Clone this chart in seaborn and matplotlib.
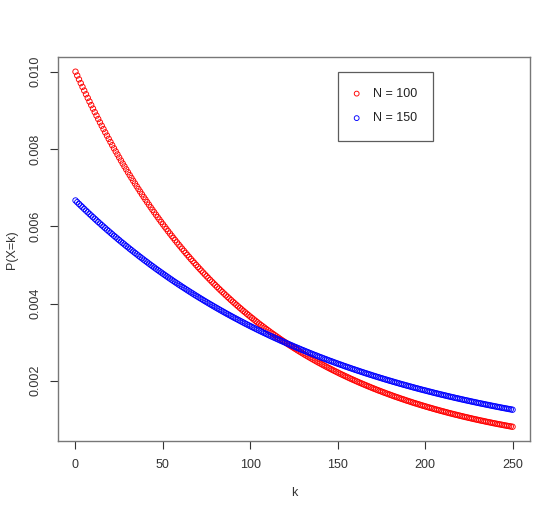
import numpy as np
import matplotlib
matplotlib.use('Agg')
import matplotlib.pyplot as plt
import seaborn as sns

# geometric pmf values, in units of 1e-6
k = list(range(0, 251))
p_n100 = [
	10000, 9900, 9801, 9703, 9606, 9510, 9415, 9321, 9227, 9135,
	9044, 8953, 8864, 8775, 8687, 8601, 8515, 8429, 8345, 8262,
	8179, 8097, 8016, 7936, 7857, 7778, 7700, 7623, 7547, 7472,
	7397, 7323, 7250, 7177, 7106, 7034, 6964, 6895, 6826, 6757,
	6690, 6623, 6557, 6491, 6426, 6362, 6298, 6235, 6173, 6111,
	6050, 5990, 5930, 5870, 5812, 5754, 5696, 5639, 5583, 5527,
	5472, 5417, 5363, 5309, 5256, 5203, 5151, 5100, 5049, 4998,
	4948, 4899, 4850, 4801, 4753, 4706, 4659, 4612, 4566, 4520,
	4475, 4430, 4386, 4342, 4299, 4256, 4213, 4171, 4130, 4088,
	4047, 4007, 3967, 3927, 3888, 3849, 3810, 3772, 3735, 3697,
	3660, 3624, 3588, 3552, 3516, 3481, 3446, 3412, 3378, 3344,
	3310, 3277, 3244, 3212, 3180, 3148, 3117, 3085, 3055, 3024,
	2994, 2964, 2934, 2905, 2876, 2847, 2819, 2790, 2763, 2735,
	2708, 2680, 2654, 2627, 2601, 2575, 2549, 2524, 2498, 2473,
	2449, 2424, 2400, 2376, 2352, 2329, 2305, 2282, 2259, 2237,
	2215, 2192, 2170, 2149, 2127, 2106, 2085, 2064, 2043, 2023,
	2003, 1983, 1963, 1943, 1924, 1905, 1886, 1867, 1848, 1830,
	1811, 1793, 1775, 1757, 1740, 1723, 1705, 1688, 1671, 1655,
	1638, 1622, 1605, 1589, 1574, 1558, 1542, 1527, 1512, 1496,
	1481, 1467, 1452, 1437, 1423, 1409, 1395, 1381, 1367, 1353,
	1340, 1326, 1313, 1300, 1287, 1274, 1261, 1249, 1236, 1224,
	1212, 1200, 1188, 1176, 1164, 1152, 1141, 1129, 1118, 1107,
	1096, 1085, 1074, 1063, 1053, 1042, 1032, 1021, 1011, 1001,
	991, 981, 971, 962, 952, 942, 933, 924, 915, 905,
	896, 887, 878, 870, 861, 852, 844, 835, 827, 819,
	811]
p_n150 = [
	6667, 6622, 6578, 6534, 6491, 6447, 6404, 6362, 6319, 6277,
	6235, 6194, 6152, 6111, 6071, 6030, 5990, 5950, 5910, 5871,
	5832, 5793, 5754, 5716, 5678, 5640, 5602, 5565, 5528, 5491,
	5455, 5418, 5382, 5346, 5311, 5275, 5240, 5205, 5170, 5136,
	5102, 5068, 5034, 5000, 4967, 4934, 4901, 4868, 4836, 4804,
	4772, 4740, 4708, 4677, 4646, 4615, 4584, 4553, 4523, 4493,
	4463, 4433, 4404, 4374, 4345, 4316, 4287, 4259, 4230, 4202,
	4174, 4146, 4119, 4091, 4064, 4037, 4010, 3983, 3957, 3930,
	3904, 3878, 3852, 3826, 3801, 3776, 3750, 3725, 3701, 3676,
	3651, 3627, 3603, 3579, 3555, 3531, 3508, 3484, 3461, 3438,
	3415, 3392, 3370, 3347, 3325, 3303, 3281, 3259, 3237, 3216,
	3194, 3173, 3152, 3131, 3110, 3089, 3069, 3048, 3028, 3008,
	2988, 2968, 2948, 2928, 2909, 2889, 2870, 2851, 2832, 2813,
	2794, 2776, 2757, 2739, 2720, 2702, 2684, 2666, 2649, 2631,
	2613, 2596, 2579, 2562, 2544, 2527, 2511, 2494, 2477, 2461,
	2444, 2428, 2412, 2396, 2380, 2364, 2348, 2333, 2317, 2302,
	2286, 2271, 2256, 2241, 2226, 2211, 2196, 2182, 2167, 2153,
	2138, 2124, 2110, 2096, 2082, 2068, 2054, 2040, 2027, 2013,
	2000, 1987, 1973, 1960, 1947, 1934, 1921, 1908, 1896, 1883,
	1871, 1858, 1846, 1833, 1821, 1809, 1797, 1785, 1773, 1761,
	1750, 1738, 1726, 1715, 1703, 1692, 1681, 1669, 1658, 1647,
	1636, 1625, 1615, 1604, 1593, 1582, 1572, 1561, 1551, 1541,
	1530, 1520, 1510, 1500, 1490, 1480, 1470, 1460, 1451, 1441,
	1431, 1422, 1412, 1403, 1394, 1384, 1375, 1366, 1357, 1348,
	1339, 1330, 1321, 1312, 1303, 1295, 1286, 1278, 1269, 1261,
	1252]
series_labels = ['N = 100', 'N = 150']
series_colors = ['red', 'blue']
x_ticks = [0, 50, 100, 150, 200, 250]
y_ticks = [0.002, 0.004, 0.006, 0.008, 0.010]
y_ticklabels = ['0.002', '0.004', '0.006', '0.008', '0.010']

sns.set_style('white')
plt.rcParams['font.family'] = ['Liberation Sans', 'DejaVu Sans']

fig = plt.figure(figsize=(5.6, 5.13), dpi=100)
ax = fig.add_axes([0.1036, 0.1404, 0.8429, 0.7476])

for vals, lab, col in zip([p_n100, p_n150], series_labels, series_colors):
	sns.scatterplot(x=k, y=np.array(vals) / 1e6, ax=ax, marker='o', s=15,
					color=col, facecolor='none', edgecolor=col, linewidth=0.65,
					label=lab, legend=False)

ax.set_xlim(-10, 260)
ax.set_ylim(0.000443, 0.010368)
ax.set_xticks(x_ticks)
ax.set_xticklabels([str(t) for t in x_ticks], fontsize=9, color='#333333')
ax.set_yticks(y_ticks)
ax.set_yticklabels(y_ticklabels, fontsize=9, color='#333333', rotation=90, va='center')
ax.tick_params(axis='both', direction='out', length=6, width=0.8, color='#333333', left=True, bottom=True)
ax.tick_params(axis='x', pad=7)
ax.tick_params(axis='y', pad=6)
for s in ax.spines.values():
	s.set_color('#777777')
	s.set_linewidth(1.0)

ax.set_xlabel('k', fontsize=9, color='#333333', labelpad=11.5)
ax.set_ylabel('P(X=k)', fontsize=9, color='#333333', labelpad=8)

leg = ax.legend(loc='upper left', bbox_to_anchor=(0.593, 0.963), borderaxespad=0,
				fontsize=9, frameon=True, fancybox=False, handletextpad=1.1,
				borderpad=1.3, labelspacing=1.0, handlelength=0.4, markerscale=0.9)
leg.get_frame().set_edgecolor('#333333')
leg.get_frame().set_linewidth(0.9)
for t in leg.get_texts():
	t.set_color('#222222')

fig.canvas.draw()
# widen the legend frame a bit on the right, like the reference box
frame = leg.get_frame()
frame.set_width(frame.get_width() + 5)

fig.savefig('out.png', dpi=100, facecolor='white')
